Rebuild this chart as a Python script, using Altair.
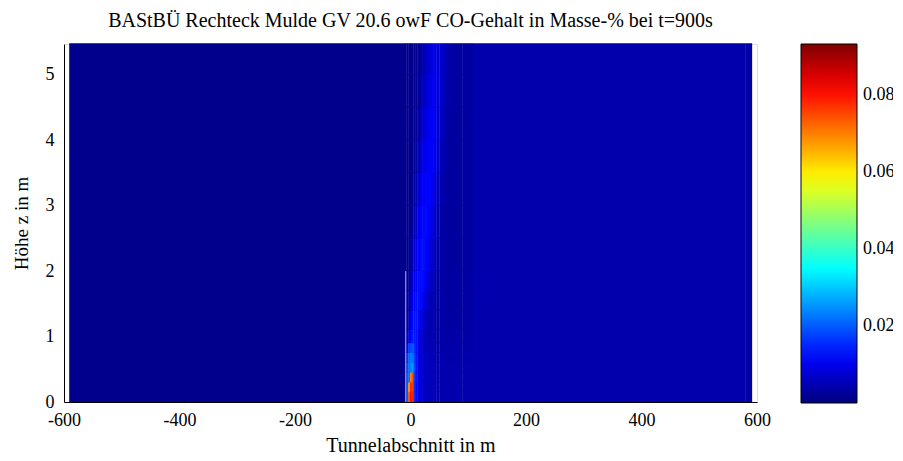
import altair as alt
import pandas as pd

FONT = "Liberation Serif"

TITLE = "BAStBÜ Rechteck Mulde GV 20.6 owF CO-Gehalt in Masse-% bei t=900s"
X_TITLE = "Tunnelabschnitt in m"
Y_TITLE = "Höhe z in m"

x_ticks = [-600, -400, -200, 0, 200, 400, 600]
z_ticks = [0, 1, 2, 3, 4, 5]
cbar_ticks = [0.02, 0.04, 0.06, 0.08]
cbar_max = 0.0932
z_top = 5.47

# full-height background bands (x from, x to, CO value)
band_x0 = [-591, 108, 580]
band_x1 = [-10, 580, 591]
band_v = [0.0012, 0.0042, 0.0036]

# plume region grid (columns between x edges, rows between z edges)
plume_x_edges = [-10, -7, -4, -1, 2, 5, 8, 12, 16, 20, 25, 30, 35, 40, 45, 50, 56, 63, 75, 90, 108]
plume_z_edges = [0, 0.15, 0.3, 0.45, 0.6, 0.75, 0.9, 1.1, 1.4, 1.7, 2.0, 2.5, 3.0, 3.5, 4.0, 4.5, 5.0, 5.47]

row_00 = [0.003, 0.02, 0.074, 0.08, 0.078, 0.016, 0.012, 0.009, 0.008, 0.007, 0.006, 0.0053, 0.005, 0.0048, 0.0046, 0.0045, 0.0044, 0.0043, 0.0042, 0.0042]
row_01 = [0.003, 0.02, 0.068, 0.078, 0.076, 0.016, 0.012, 0.0095, 0.008, 0.007, 0.006, 0.0053, 0.005, 0.0048, 0.0046, 0.0045, 0.0044, 0.0043, 0.0042, 0.0042]
row_02 = [0.003, 0.02, 0.022, 0.07, 0.074, 0.017, 0.013, 0.0095, 0.008, 0.007, 0.006, 0.0053, 0.005, 0.0048, 0.0046, 0.0045, 0.0044, 0.0043, 0.0042, 0.0042]
row_03 = [0.003, 0.018, 0.022, 0.024, 0.026, 0.018, 0.013, 0.0095, 0.008, 0.007, 0.006, 0.0052, 0.0048, 0.0046, 0.0045, 0.0044, 0.0043, 0.0042, 0.0041, 0.0041]
row_04 = [0.0025, 0.016, 0.021, 0.023, 0.022, 0.018, 0.013, 0.0095, 0.0078, 0.0068, 0.0058, 0.005, 0.0047, 0.0045, 0.0044, 0.0042, 0.0041, 0.004, 0.0039, 0.004]
row_05 = [0.002, 0.011, 0.017, 0.019, 0.019, 0.016, 0.0128, 0.0098, 0.0078, 0.0065, 0.0056, 0.0049, 0.0046, 0.0044, 0.0042, 0.004, 0.0039, 0.0038, 0.0037, 0.0038]
row_06 = [0.0018, 0.005, 0.0095, 0.0125, 0.0138, 0.014, 0.0132, 0.0108, 0.0082, 0.0062, 0.005, 0.0045, 0.0042, 0.004, 0.0039, 0.0037, 0.0036, 0.0035, 0.0034, 0.0036]
row_07 = [0.0015, 0.0025, 0.005, 0.009, 0.0125, 0.0135, 0.0135, 0.0122, 0.0098, 0.0075, 0.0055, 0.0045, 0.004, 0.0038, 0.0036, 0.0035, 0.0034, 0.0032, 0.0032, 0.0034]
row_08 = [0.0013, 0.0018, 0.0035, 0.0065, 0.0095, 0.0118, 0.013, 0.0133, 0.0122, 0.0098, 0.0072, 0.0055, 0.0045, 0.004, 0.0037, 0.0035, 0.0033, 0.0031, 0.0031, 0.0033]
row_09 = [0.0013, 0.0014, 0.0022, 0.0045, 0.0072, 0.0098, 0.0118, 0.013, 0.0131, 0.0122, 0.0098, 0.0072, 0.0054, 0.0044, 0.0038, 0.0035, 0.0032, 0.003, 0.003, 0.0032]
row_10 = [0.0013, 0.0013, 0.0016, 0.0028, 0.0048, 0.0072, 0.0098, 0.0118, 0.0127, 0.0128, 0.0115, 0.0092, 0.0068, 0.005, 0.004, 0.0035, 0.0031, 0.0029, 0.0029, 0.0031]
row_11 = [0.0013, 0.0013, 0.0014, 0.0018, 0.0028, 0.0045, 0.0068, 0.0092, 0.0112, 0.0123, 0.0124, 0.0112, 0.0088, 0.0065, 0.0048, 0.0038, 0.0032, 0.0029, 0.0029, 0.0031]
row_12 = [0.0013, 0.0013, 0.0013, 0.0015, 0.0019, 0.0028, 0.0045, 0.0068, 0.0092, 0.011, 0.012, 0.0118, 0.0102, 0.008, 0.0058, 0.0043, 0.0034, 0.003, 0.0029, 0.0031]
row_13 = [0.0013, 0.0013, 0.0013, 0.0013, 0.0015, 0.0019, 0.003, 0.0048, 0.007, 0.0092, 0.0108, 0.0115, 0.0112, 0.0096, 0.0074, 0.0052, 0.0038, 0.0031, 0.0029, 0.0031]
row_14 = [0.0013, 0.0013, 0.0013, 0.0013, 0.0013, 0.0015, 0.002, 0.0033, 0.0052, 0.0075, 0.0095, 0.0106, 0.0108, 0.0101, 0.0084, 0.0062, 0.0043, 0.0032, 0.0029, 0.0031]
row_15 = [0.0013, 0.0013, 0.0013, 0.0013, 0.0013, 0.0013, 0.0016, 0.0024, 0.0038, 0.0058, 0.0078, 0.0093, 0.01, 0.0099, 0.0088, 0.0068, 0.0048, 0.0034, 0.0029, 0.0031]
row_16 = [0.0013, 0.0013, 0.0013, 0.0013, 0.0013, 0.0013, 0.0014, 0.0018, 0.0028, 0.0044, 0.0062, 0.0078, 0.0088, 0.0092, 0.0086, 0.007, 0.0052, 0.0036, 0.003, 0.0031]

plume_rows = [row_00, row_01, row_02, row_03, row_04, row_05, row_06, row_07, row_08,
              row_09, row_10, row_11, row_12, row_13, row_14, row_15, row_16]

# thin obstacle line near the source
obstacle_x = [-8.3]
obstacle_z0 = [0.0]
obstacle_z1 = [2.0]

# ---------------------------------------------------------------- tables
recs = []
for a, b, v in zip(band_x0, band_x1, band_v):
    recs.append({"x": a, "x2": b, "z": 0.0, "z2": z_top, "v": v})
for j, row in enumerate(plume_rows):
    for i, v in enumerate(row):
        recs.append({"x": plume_x_edges[i], "x2": plume_x_edges[i + 1],
                     "z": plume_z_edges[j], "z2": plume_z_edges[j + 1], "v": v})
field = pd.DataFrame(recs)
obst = pd.DataFrame({"x": obstacle_x, "z0": obstacle_z0, "z1": obstacle_z1})

jet_domain = [0, cbar_max * 0.125, cbar_max * 0.375, cbar_max * 0.625, cbar_max * 0.875, cbar_max]
jet_range = ["#00007F", "#0000FF", "#00FFFF", "#FFFF00", "#FF0000", "#7F0000"]

W, H = 693, 358

xscale = alt.Scale(domain=[-600, 600], nice=False, zero=False)
yscale = alt.Scale(domain=[0, z_top], nice=False, zero=False)

x_axis = alt.Axis(values=x_ticks, title=X_TITLE, grid=False, ticks=False, tickSize=0,
                  labelFont=FONT, labelFontSize=18, labelColor="black", labelPadding=9,
                  labelExpr="'' + datum.value",
                  titleFont=FONT, titleFontSize=20, titleFontWeight="normal", titleColor="black",
                  titleX=W / 2, titleY=49, titleBaseline="alphabetic",
                  domainColor="black", domainWidth=1, labelFlush=False)
y_axis = alt.Axis(values=z_ticks, title=Y_TITLE, grid=False, ticks=False, tickSize=0,
                  labelFont=FONT, labelFontSize=18, labelColor="black", labelPadding=10,
                  labelExpr="'' + datum.value",
                  titleFont=FONT, titleFontSize=19, titleFontWeight="normal", titleColor="black",
                  titleX=-37, titleY=H / 2, titleBaseline="alphabetic", titleAngle=270,
                  domainColor="black", domainWidth=1, labelFlush=False)

rects = alt.Chart(field).transform_calculate(
    x2e="datum.x2 + 0.6", z2e="datum.z2 + 0.012"
).mark_rect().encode(
    x=alt.X("x:Q", scale=xscale, axis=x_axis),
    x2="x2e:Q",
    y=alt.Y("z:Q", scale=yscale, axis=y_axis),
    y2="z2e:Q",
    color=alt.Color("v:Q",
                    scale=alt.Scale(domain=jet_domain, range=jet_range, interpolate="rgb"),
                    legend=alt.Legend(type="gradient", orient="none", legendX=737, legendY=0,
                                      direction="vertical", title=None,
                                      gradientLength=359, gradientThickness=56,
                                      gradientStrokeColor="black", gradientStrokeWidth=1,
                                      values=cbar_ticks, format=".2f",
                                      labelFont=FONT, labelFontSize=18, labelColor="black",
                                      labelOffset=6, labelOverlap=False, padding=0)),
)

rule = alt.Chart(obst).mark_rule(color="#A8A8EC", strokeWidth=1).encode(
    x=alt.X("x:Q", scale=xscale),
    y=alt.Y("z0:Q", scale=yscale),
    y2="z1:Q",
)

chart = alt.layer(rects, rule).properties(
    width=W, height=H,
    title=alt.TitleParams(text=TITLE, font=FONT, fontSize=20, fontWeight="normal",
                          color="black", anchor="middle", offset=12),
    autosize=alt.AutoSizeParams(type="none"),
    padding={"left": 56, "top": 36, "right": 136, "bottom": 56},
).configure_view(strokeWidth=0).configure(background="white")

chart.save("out.html", embed_options={"renderer": "svg", "actions": False})
